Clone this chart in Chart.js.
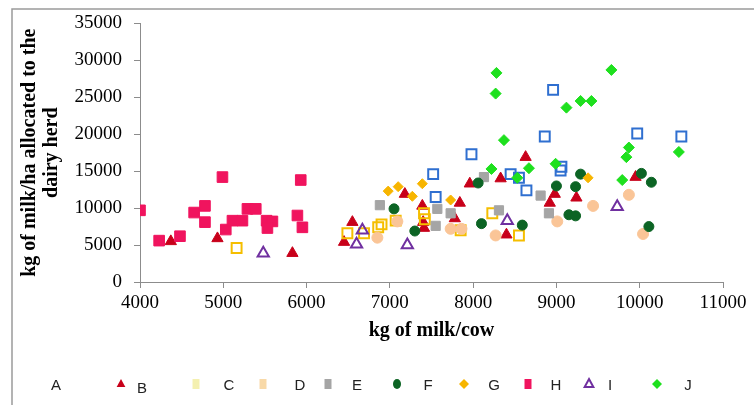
<!DOCTYPE html>
<html>
<head>
<meta charset="utf-8">
<script src="https://cdn.jsdelivr.net/npm/chart.js@4.4.0/dist/chart.umd.min.js"></script>
<style>
  html, body { margin: 0; padding: 0; background: #fff; }
  #wrap { width: 754px; height: 405px; }
</style>
</head>
<body>
<div id="wrap"><canvas id="milkChart" width="754" height="405"></canvas></div>
<script>
// series labels
var seriesNames = ['A', 'B', 'C', 'D', 'E', 'F', 'G', 'H', 'I', 'J'];

// kg of milk/cow (x) and kg of milk/ha (y) per series
var aX = [7520, 7550, 7980, 8450, 8550, 8640, 8860, 8960, 9060, 9050, 9970, 10500];
var aY = [14600, 11500, 17300, 14600, 14100, 12400, 19700, 26000, 15600, 15100, 20100, 19700];

var bX = [4370, 4930, 5830, 6450, 6550, 7180, 7390, 7400, 7410, 7840, 7780, 7960, 8330, 8630, 8400, 8980, 8920, 9240, 9950];
var bY = [5500, 5900, 3900, 5400, 8100, 11900, 10300, 8100, 7300, 10700, 8600, 13300, 14000, 16900, 6400, 11900, 10700, 11400, 14200];

var cX = [5160, 6490, 6690, 6860, 6900, 7070, 7410, 7420, 7850, 8230, 8550];
var cY = [4600, 6600, 6600, 7400, 7800, 8300, 9300, 8500, 7000, 9300, 6300];

var dX = [6850, 7090, 7730, 7860, 8270, 9010, 9440, 9870, 10040];
var dY = [6000, 8200, 7200, 7200, 6300, 8200, 10300, 11800, 6500];

var eX = [6880, 7570, 7550, 7730, 8130, 8310, 8810, 8910];
var eY = [10400, 9900, 7600, 9300, 14200, 9700, 11700, 9300];

var fX = [7050, 7300, 8060, 8100, 8590, 9000, 9230, 9290, 9150, 9230, 10020, 10140, 10110];
var fY = [9900, 6900, 13400, 7900, 7700, 13000, 12900, 14600, 9100, 8950, 14700, 13500, 7500];

var gX = [6980, 7100, 7270, 7390, 7730, 9380];
var gY = [12300, 12900, 11600, 13300, 11100, 14100];

var hX = [4000, 4230, 4480, 4650, 4780, 4780, 4990, 5030, 5110, 5230, 5290, 5390, 5520, 5590, 5530, 5890, 5930, 5950];
var hY = [9700, 5600, 6200, 9400, 10300, 8100, 14200, 7100, 8300, 8300, 9900, 9900, 8300, 8200, 7300, 9000, 13800, 7400];

var iX = [5480, 6600, 6670, 7210, 8410, 9730];
var iY = [3900, 5100, 7000, 5000, 8300, 10200];

var jX = [8280, 8270, 9660, 9120, 9290, 9420, 8370, 8220, 8670, 8530, 8990, 9870, 9840, 9790, 10470];
var jY = [28300, 25500, 28700, 23600, 24500, 24500, 19200, 15300, 15400, 14100, 16000, 18200, 16900, 13800, 17600];

var xTicks = [4000, 5000, 6000, 7000, 8000, 9000, 10000, 11000];
var yTicks = [0, 5000, 10000, 15000, 20000, 25000, 30000, 35000];

function pts(xs, ys) {
    return xs.map(function (x, k) { return { x: x, y: ys[k] }; });
}

// marker look for each series
var looks = [
    { style: 'rect',     r: 7,   fill: 'rgba(0,0,0,0)', line: '#2F6FD0', w: 2 },
    { style: 'triangle', r: 6.5, fill: '#C8001A', line: '#C8001A', w: 1 },
    { style: 'rect',     r: 7,   fill: 'rgba(0,0,0,0)', line: '#F5BE00', w: 2 },
    { style: 'circle',   r: 5.5, fill: '#FAC597', line: '#FAC597', w: 1 },
    { style: 'rect',     r: 6.5, fill: '#A5A5A5', line: '#A5A5A5', w: 1 },
    { style: 'circle',   r: 5,   fill: '#0C6424', line: '#0C6424', w: 1 },
    { style: 'rectRot',  r: 5,   fill: '#F7B500', line: '#F7B500', w: 1 },
    { style: 'rect',     r: 7.5, fill: '#F0145E', line: '#F0145E', w: 1 },
    { style: 'triangle', r: 6.5, fill: 'rgba(0,0,0,0)', line: '#7030A0', w: 2 },
    { style: 'rectRot',  r: 5.5, fill: '#1EE01E', line: '#1EE01E', w: 1 }
];

var allX = [aX, bX, cX, dX, eX, fX, gX, hX, iX, jX];
var allY = [aY, bY, cY, dY, eY, fY, gY, hY, iY, jY];

var datasets = seriesNames.map(function (name, k) {
    var lk = looks[k];
    return {
        label: name,
        data: pts(allX[k], allY[k]),
        pointStyle: lk.style,
        pointRadius: lk.r,
        pointHoverRadius: lk.r,
        backgroundColor: lk.fill,
        borderColor: lk.line,
        pointBorderWidth: lk.w,
        showLine: false,
        order: 10 - k   // later series on top, like the original
    };
});

// hand placed legend row
var legendRow = {
    y: 386,
    marks: [null, 121, 196, 263, 328, 397, 464, 528, 589, 657],
    texts: [56, 142, 229, 300, 357, 428, 494, 556, 610, 688]
};

function drawMark(ctx, lk, x, y, r) {
    ctx.save();
    ctx.fillStyle = lk.fill;
    ctx.strokeStyle = lk.line;
    ctx.lineWidth = lk.w;
    ctx.beginPath();
    if (lk.style === 'triangle') {
        ctx.moveTo(x, y - r);
        ctx.lineTo(x + r * 0.87, y + r * 0.6);
        ctx.lineTo(x - r * 0.87, y + r * 0.6);
        ctx.closePath();
    } else if (lk.style === 'circle') {
        ctx.ellipse(x, y, r * 0.8, r, 0, 0, Math.PI * 2);
    } else if (lk.style === 'rectRot') {
        ctx.moveTo(x, y - r);
        ctx.lineTo(x + r, y);
        ctx.lineTo(x, y + r);
        ctx.lineTo(x - r, y);
        ctx.closePath();
    } else {
        ctx.rect(x - r * 0.7, y - r, r * 1.4, r * 2);
    }
    ctx.fill();
    if (lk.w > 1) ctx.stroke();
    ctx.restore();
}

var framePlugin = {
    id: 'frameAndLegend',
    afterDraw: function (chart) {
        var ctx = chart.ctx;
        ctx.save();
        ctx.strokeStyle = '#9a9a9a';
        ctx.lineWidth = 1.5;
        ctx.beginPath();
        ctx.moveTo(12, 405);
        ctx.lineTo(12, 9);
        ctx.lineTo(754, 9);
        ctx.stroke();

        ctx.font = '15px "Liberation Sans Narrow", "Liberation Sans", sans-serif';
        ctx.fillStyle = '#222';
        ctx.textBaseline = 'middle';
        ctx.textAlign = 'center';
        chart.data.datasets.forEach(function (ds, k) {
            if (legendRow.marks[k] !== null) {
                var lk = looks[k];
                var small = { style: lk.style, fill: lk.fill === 'rgba(0,0,0,0)' ? '#fff' : lk.fill, line: lk.line, w: lk.w };
                if (k === 2) small = { style: 'rect', fill: '#F4F0B0', line: '#F4F0B0', w: 1 };
                if (k === 3) small = { style: 'rect', fill: '#F8D9A8', line: '#F8D9A8', w: 1 };
                drawMark(ctx, small, legendRow.marks[k], legendRow.y - 2, 5);
            }
            ctx.fillText(ds.label, legendRow.texts[k], legendRow.y + (k === 1 ? 3 : 0));
        });
        ctx.restore();
    }
};

function plainTick(value) {
    return String(value);
}

var ctx = document.getElementById('milkChart').getContext('2d');
var chart = new Chart(ctx, {
    type: 'scatter',
    data: { datasets: datasets },
    options: {
        responsive: false,
        animation: false,
        devicePixelRatio: 1,
        layout: { padding: { top: 21, right: 31, bottom: 0, left: 0 } },
        plugins: {
            legend: { display: false },
            tooltip: { enabled: false }
        },
        scales: {
            x: {
                type: 'linear',
                min: 4000,
                max: 11000,
                afterBuildTicks: function (axis) {
                    axis.ticks = xTicks.map(function (v) { return { value: v }; });
                },
                afterFit: function (axis) { axis.height = 123; },
                ticks: {
                    color: '#000',
                    padding: 4,
                    callback: plainTick,
                    font: { family: '"Liberation Serif", "Times New Roman", serif', size: 19 }
                },
                grid: { drawOnChartArea: false, tickLength: 6, color: '#8c8c8c' },
                border: { color: '#8c8c8c', width: 1 },
                title: {
                    display: true,
                    text: 'kg of milk/cow',
                    color: '#000',
                    font: { family: '"Liberation Serif", "Times New Roman", serif', size: 20, weight: 'bold' },
                    padding: { top: 0, bottom: 62 }
                }
            },
            y: {
                type: 'linear',
                min: 0,
                max: 35000,
                afterBuildTicks: function (axis) {
                    axis.ticks = yTicks.map(function (v) { return { value: v }; });
                },
                afterFit: function (axis) { axis.width = 140; },
                ticks: {
                    color: '#000',
                    padding: 12,
                    callback: plainTick,
                    font: { family: '"Liberation Serif", "Times New Roman", serif', size: 19 }
                },
                grid: { drawOnChartArea: false, tickLength: 6, color: '#8c8c8c' },
                border: { color: '#8c8c8c', width: 1 },
                title: {
                    display: true,
                    text: ['kg of milk/ha allocated to the', 'dairy herd'],
                    color: '#000',
                    font: { family: '"Liberation Serif", "Times New Roman", serif', size: 20, weight: 'bold', lineHeight: 1.1 },
                    padding: { top: 19, bottom: 0 }
                }
            }
        }
    },
    plugins: [framePlugin]
});
</script>
</body>
</html>
